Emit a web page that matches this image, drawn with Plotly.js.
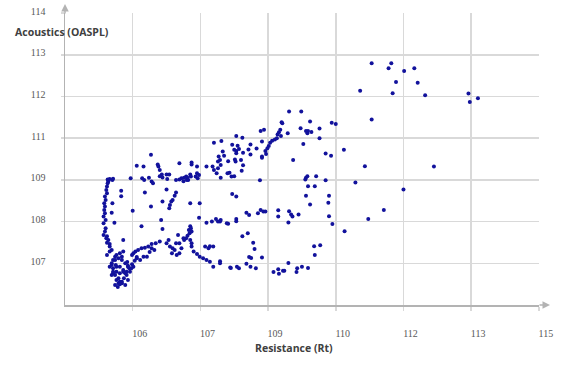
<!DOCTYPE html>
<html>
<head>
<meta charset="utf-8">
<script src="https://cdn.plot.ly/plotly-3.0.1.min.js"></script>
<style>html,body{margin:0;padding:0;background:#fff;}#chart{width:567px;height:365px;}</style>
</head>
<body>
<div id="chart"></div>
<script>
// Axis positions (evenly spaced) and the labels printed under them
const xTickPos = [106, 107, 108, 109, 110, 111, 112];
const xTickText = ['106', '107', '109', '110', '112', '113', '115'];
const yTickPos = [107, 108, 109, 110, 111, 112, 113];
const yTickText = ['107', '108', '109', '111', '112', '113', '114'];

// Resistance (Rt) values, in axis position units
const resistance = [
109.53,109.82,109.78,110.01,110.16,109.89,110.21,109.36,109.84,110.32,110.96,111.10,110.98,109.53,109.43,110.45,109.29,110.00,109.71,109.48,
108.31,108.49,108.20,108.21,108.62,108.94,109.00,108.48,108.56,108.59,108.64,108.58,108.76,108.76,108.29,108.18,108.16,108.14,108.19,108.13,
108.10,108.06,108.03,108.01,107.99,107.96,107.97,107.91,107.91,107.89,107.94,107.53,107.62,107.31,107.47,107.55,107.74,107.71,107.83,107.91,
107.53,107.53,107.63,107.74,107.33,107.35,107.29,107.51,107.52,107.60,107.63,107.41,107.61,107.43,107.50,107.30,108.37,108.52,108.85,108.93,
109.12,108.56,108.58,108.55,108.71,108.85,108.59,108.69,107.88,107.47,107.53,108.56,108.62,108.90,108.89,108.90,108.95,109.13,107.68,107.72,
107.85,107.89,107.93,107.96,107.53,107.53,107.29,107.41,108.15,108.15,108.31,108.34,108.36,108.45,108.30,107.62,107.70,107.78,107.80,107.72,
107.75,107.91,107.29,107.29,107.45,107.57,107.68,107.74,107.82,108.08,108.15,108.16,108.22,108.24,108.30,108.42,108.43,108.50,108.59,108.68,
108.77,108.69,
106.27,107.20,107.50,107.57,107.27,107.26,107.30,107.18,107.20,106.06,106.16,106.37,106.38,106.40,106.43,106.69,106.87,106.87,106.95,106.95,
106.93,105.97,106.14,106.17,106.24,106.28,106.30,106.40,106.44,106.51,106.50,106.54,106.64,106.69,106.72,106.76,106.79,106.81,106.80,106.75,
106.82,106.85,106.86,106.98,106.96,107.09,107.26,107.24,107.40,107.46,
105.66,105.70,105.64,105.63,105.62,105.61,105.62,105.59,105.60,105.58,105.59,105.58,105.59,105.57,105.60,105.57,105.83,105.83,105.70,105.69,
105.73,105.60,105.59,105.62,105.64,105.66,105.69,105.86,106.00,106.18,106.27,106.50,106.64,106.62,106.59,106.57,106.55,106.54,106.44,106.42,
106.13,106.44,106.85,106.99,106.98,106.85,106.86,106.83,106.87,106.84,106.81,106.79,106.76,106.67,106.75,106.53,106.50,
106.40,106.34,106.28,106.23,106.18,106.13,106.08,106.04,106.01,105.99,106.32,106.28,106.25,106.21,106.16,106.11,106.06,106.03,105.99,106.01,
105.95,105.93,105.91,105.89,106.55,106.59,106.62,106.58,106.65,106.69,106.72,106.64,106.69,106.87,106.90,106.95,106.99,107.04,107.09,107.14,
107.19,106.85,106.87,107.07,107.14,107.19,107.12,107.09,107.17,107.23,107.26,107.30,107.39,107.44,107.54,
105.66,105.69,105.71,105.74,105.76,105.81,105.86,105.84,105.79,105.75,105.71,105.74,105.79,105.81,105.84,
105.63,105.71,105.62,105.66,105.66,105.62,105.57,105.61,
105.69,105.71,105.71,105.76,105.79,105.81,105.84,105.87,105.91,105.96,105.98,105.93,105.89,105.84,105.74,105.76,105.81,105.86,105.81,105.76,
105.78,105.74,105.89,105.93,105.69,105.86,105.92,106.06
];

// Acoustics (OASPL) values, in axis position units
const acoustics = [
111.80,111.80,111.68,111.61,111.68,111.35,111.33,111.14,111.08,111.03,111.07,110.96,110.87,110.45,109.33,109.32,108.94,108.77,108.28,108.06,
110.64,110.64,110.38,110.36,110.40,110.37,110.34,110.24,110.17,110.17,110.15,110.12,110.23,110.00,110.12,110.20,110.14,110.09,110.05,110.00,
109.97,109.94,109.89,109.81,109.76,109.69,109.62,109.53,109.56,110.17,110.20,110.05,110.01,109.93,109.84,109.82,109.85,109.73,109.75,109.92,
109.69,109.64,109.65,109.61,109.68,109.58,109.48,109.49,109.44,109.48,109.35,109.45,109.22,109.17,109.09,109.05,109.48,109.86,109.63,109.58,
109.72,109.05,109.09,109.01,109.09,108.99,108.85,108.85,108.99,108.66,108.60,108.62,108.41,108.62,108.45,108.13,107.94,107.77,108.21,108.16,
108.20,108.28,108.24,108.24,108.06,108.01,108.00,107.95,108.27,108.12,108.25,108.17,108.12,108.17,107.98,107.65,107.72,107.49,107.34,107.15,
107.13,107.14,107.05,107.00,106.89,106.88,106.99,106.92,106.88,106.79,106.86,106.75,106.82,106.82,107.01,106.79,106.88,106.92,106.89,107.41,
107.43,107.20,
109.60,109.89,109.72,109.74,109.56,109.44,109.36,109.32,109.24,109.34,109.32,109.37,109.32,109.24,109.13,109.40,109.42,109.37,109.32,109.16,
109.08,109.04,109.04,109.00,109.05,108.96,108.92,109.09,109.06,109.02,109.13,109.13,109.00,109.01,109.04,109.05,109.08,109.05,109.00,108.97,
109.00,109.13,109.08,109.12,109.04,109.32,109.28,109.16,109.16,109.08,
109.02,109.00,108.96,108.92,108.84,108.76,108.68,108.60,108.52,108.44,108.36,108.28,108.20,108.12,108.04,107.96,108.74,108.61,108.44,108.21,
107.97,107.84,107.76,107.65,107.56,107.46,107.32,107.56,108.26,108.70,108.36,108.77,108.70,108.62,108.52,108.48,108.40,108.32,108.48,108.04,
107.89,107.82,108.44,108.44,108.09,107.89,107.84,107.80,107.76,107.72,107.66,107.60,107.56,107.68,107.60,107.56,107.48,
107.52,107.48,107.46,107.40,107.37,107.36,107.32,107.28,107.24,107.20,107.32,107.36,107.27,107.16,107.16,107.08,107.12,107.06,106.98,106.92,
106.88,106.94,106.80,106.76,107.40,107.36,107.32,107.24,107.20,107.24,107.36,107.48,107.48,107.40,107.28,107.22,107.16,107.12,107.08,107.04,
106.92,107.56,107.48,107.40,107.41,107.40,107.36,107.97,108.00,108.06,108.00,108.04,107.96,106.90,106.92,
106.92,107.00,107.08,107.16,107.20,107.24,107.28,107.16,107.12,106.96,106.80,106.72,106.64,106.56,106.52,
109.01,109.03,107.49,107.40,107.28,107.20,107.68,107.60,
106.96,106.88,106.76,106.60,106.52,106.50,106.56,106.64,106.72,106.80,106.88,106.92,107.00,107.08,107.08,106.80,106.76,106.80,106.92,106.92,
106.43,106.48,106.48,106.60,106.72,106.84,107.03,107.15
];

const gridCol = '#d9d9d9';
const axisCol = '#b3b3b3';
const tickFont = {family: 'Liberation Serif, serif', size: 10, color: '#595959'};
const titleFont = {family: 'Open Sans, sans-serif', size: 10.5, color: '#404040', weight: 'bold'};

const trace = {
  type: 'scatter',
  mode: 'markers',
  x: resistance,
  y: acoustics,
  marker: {color: '#12129c', size: 4, line: {width: 0}},
  hoverinfo: 'x+y'
};

const layout = {
  width: 567, height: 365,
  margin: {l: 65, r: 28, t: 13, b: 60, pad: 0},
  paper_bgcolor: '#ffffff', plot_bgcolor: '#ffffff',
  showlegend: false,
  xaxis: {
    range: [105, 112.002], tickmode: 'array', tickvals: xTickPos, ticktext: xTickText,
    showgrid: true, gridcolor: gridCol, gridwidth: 1.5, zeroline: false,
    showline: true, linecolor: axisCol, linewidth: 1.5,
    ticks: 'outside', ticklen: 4, tickcolor: gridCol, tickwidth: 1.5,
    tickfont: tickFont, ticklabelstandoff: 14, ticklabelshift: 7,
    title: {text: ''}
  },
  yaxis: {
    range: [106, 113.002], tickmode: 'array', tickvals: yTickPos, ticktext: yTickText,
    showgrid: true, gridcolor: gridCol, gridwidth: 1.5, zeroline: false,
    showline: true, linecolor: axisCol, linewidth: 1.5,
    ticks: 'outside', ticklen: 3, tickcolor: gridCol, tickwidth: 1.5,
    tickfont: tickFont, ticklabelstandoff: 13, ticklabelshift: -2,
    title: {text: ''}
  },
  annotations: [
    {xref: 'paper', yref: 'paper', x: 1 + 11/474, y: 0, ax: -12, ay: 0, text: '',
     showarrow: true, arrowhead: 2, arrowsize: 1, arrowwidth: 1.5, arrowcolor: axisCol},
    {xref: 'paper', yref: 'paper', x: 0, y: 1 + 9/292, ax: 0, ay: 11, text: '',
     showarrow: true, arrowhead: 2, arrowsize: 1, arrowwidth: 1.5, arrowcolor: axisCol},
    {xref: 'paper', yref: 'paper', x: -65/474 + 13/474, y: 1 - 19/292, xanchor: 'left', yanchor: 'middle',
     text: '<b>Acoustics (OASPL)</b>', showarrow: false, font: titleFont},
    {xref: 'paper', yref: 'paper', x: (294-65)/474, y: -43/292, xanchor: 'center', yanchor: 'middle',
     text: '<b>Resistance (Rt)</b>', showarrow: false, font: titleFont}
  ]
};

Plotly.newPlot('chart', [trace], layout, {displayModeBar: false, staticPlot: true});
</script>
</body>
</html>
